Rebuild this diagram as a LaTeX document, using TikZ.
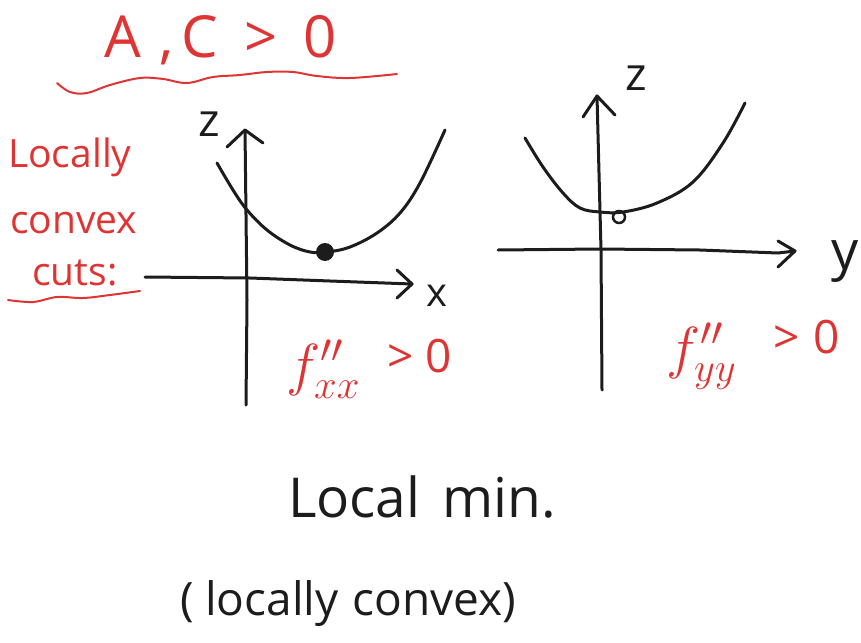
\RequirePackage{fix-cm}
\documentclass[tikz,border=0pt]{standalone}
\usepackage{fontspec}
\setmainfont{Open Sans}
\definecolor{pen}{RGB}{28,28,28}
\definecolor{redpen}{RGB}{222,52,52}
\begin{document}
\begin{tikzpicture}[x=1pt,y=-1pt,
  axis/.style={draw=pen,line width=3pt,line cap=round,line join=round},
  curve/.style={draw=pen,line width=3pt,line cap=round},
  redwave/.style={draw=redpen,line width=2pt,line cap=round},
  redtext/.style={text=redpen,inner sep=0pt},
  blacktext/.style={text=pen,inner sep=0pt}]
\useasboundingbox (0,0) rectangle (861,642);

% ---------- title ----------
\node[redtext,font=\fontsize{58}{58}\selectfont,anchor=base] (cond) at (221,57)
  {A\hspace{0.3em},\hspace{0.15em}C\hspace{0.45em}>\hspace{0.45em}0};
\draw[redwave] plot[smooth,tension=0.6] coordinates {(57,83) (70,92) (87,93) (110,85) (140,78) (163,79) (187,83) (213,77) (240,75) (267,72) (293,72) (317,76) (350,78) (397,74)};

% ---------- side label ----------
\node[redtext,font=\fontsize{39}{39}\selectfont,anchor=base west] (l1) at (8,167) {Locally};
\node[redtext,font=\fontsize{39}{39}\selectfont,anchor=base west] (l2) at (10,233) {convex};
\node[redtext,font=\fontsize{39}{39}\selectfont,anchor=base west] (l3) at (32,285) {cuts:};
\draw[redwave] plot[smooth,tension=0.6] coordinates {(8,300) (33,302) (57,297) (83,298) (110,295) (140,291)};

% ---------- left graph ----------
\coordinate (lzb) at (246,405);
\coordinate (lzt) at (245,130);
\coordinate (lxs) at (145,277);
\coordinate (lxe) at (412,284);
\draw[axis] (lzb) -- (247,300) -- (lzt);
\draw[axis] (227,147) -- (lzt) -- (263,143);
\draw[axis] (lxs) -- (250,278) -- (330,281) -- (lxe);
\draw[axis] (397,270) -- (lxe) -- (397,298);
\draw[curve] plot[smooth,tension=0.6] coordinates {(217,163) (233,190) (247,210) (267,230) (290,245) (310,252) (327,252) (350,247) (377,233) (400,213) (420,183) (445,130)};
\node[circle,fill=pen,minimum size=18pt,inner sep=0pt] (pmin) at (325,252) {};
\node[blacktext,font=\fontsize{46}{46}\selectfont] (lz) at (209,124) {z};
\node[blacktext,font=\fontsize{40}{40}\selectfont] (lx) at (437,296) {x};
\node[redtext,font=\fontsize{58}{58}\selectfont,anchor=base west] (fxx) at (286,384)
  {$f''_{xx}$\raisebox{12pt}{\fontsize{46}{46}\selectfont\hspace{0.6em}>\hspace{0.25em}0}};

% ---------- right graph ----------
\coordinate (rzb) at (602,390);
\coordinate (rzt) at (597,96);
\coordinate (rys) at (498,250);
\coordinate (rye) at (795,251);
\draw[axis] (rzb) -- (601,250) -- (rzt);
\draw[axis] (583,117) -- (rzt) -- (615,115);
\draw[axis] (rys) -- (600,249) -- (700,250) -- (778,253) -- (rye);
\draw[axis] (778,241) -- (rye) -- (778,267);
\draw[curve] plot[smooth,tension=0.6] coordinates {(525,138) (543,167) (563,193) (580,208) (600,212) (623,212) (657,203) (693,182) (723,143) (745,103)};
\node[circle,draw=pen,line width=2.5pt,minimum size=12pt,inner sep=0pt] (pmin2) at (619,217) {};
\node[blacktext,font=\fontsize{46}{46}\selectfont] (rz) at (636,78) {z};
\node[blacktext,font=\fontsize{54}{54}\selectfont] (ry) at (845,262) {y};
\node[redtext,font=\fontsize{58}{58}\selectfont,anchor=base west] (fyy) at (666,367)
  {$f''_{yy}$\raisebox{14pt}{\fontsize{46}{46}\selectfont\hspace{0.8em}>\hspace{0.3em}0}};

% ---------- bottom text ----------
\node[blacktext,font=\fontsize{55}{55}\selectfont,anchor=base] (lm) at (422,517) {Local\hspace{0.4em}min.};
\node[blacktext,font=\fontsize{46}{46}\selectfont,anchor=base] (lc) at (348,615) {(\hspace{0.25em}locally\hspace{0.3em}convex)};
\end{tikzpicture}
\end{document}
